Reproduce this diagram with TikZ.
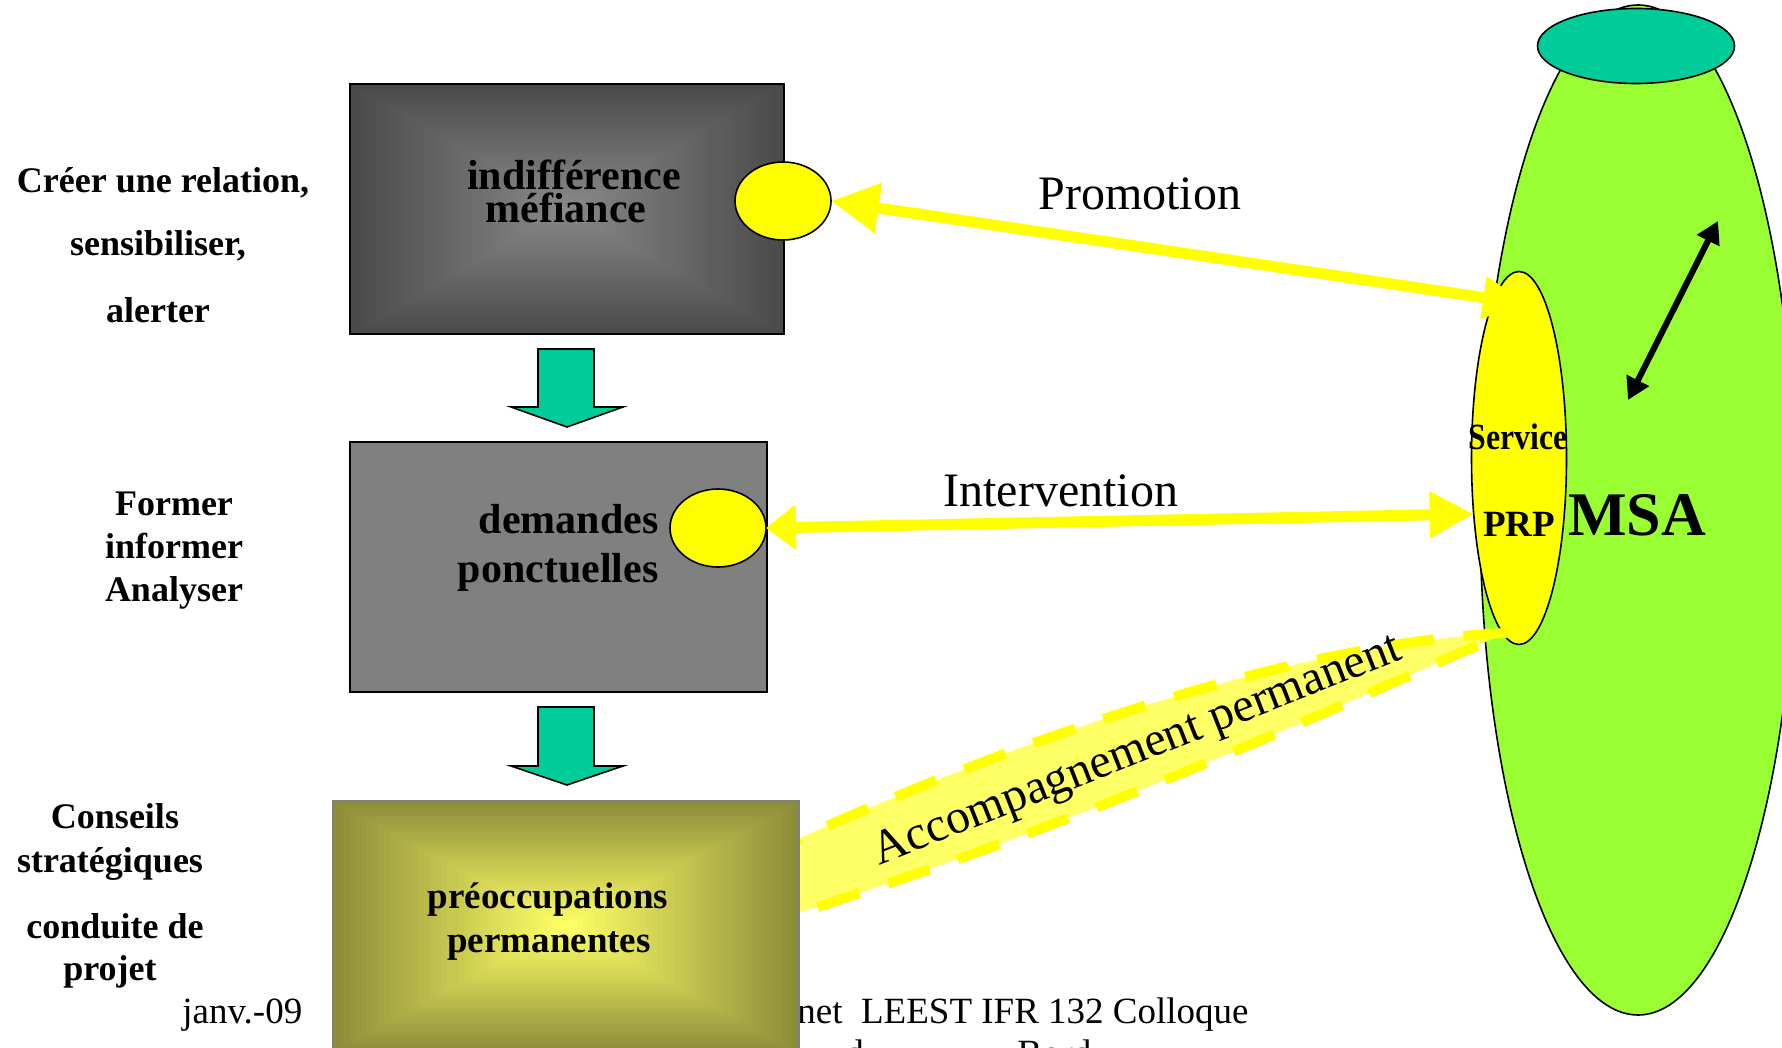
\documentclass[tikz,border=0pt]{standalone}
\usepackage{fontspec}
\setmainfont{Liberation Serif}
\usetikzlibrary{shapes.geometric,arrows.meta,calc}
\definecolor{msagreen}{HTML}{99FF33}
\definecolor{tealc}{HTML}{00CC99}
\definecolor{yel}{HTML}{FFFF00}
\definecolor{lyel}{HTML}{FFFF66}
\definecolor{boxgray}{HTML}{808080}
\definecolor{darkout}{HTML}{4A4A4A}
\definecolor{darkin}{HTML}{888888}
\definecolor{oliveout}{HTML}{8C8C3A}
\definecolor{olivein}{HTML}{FFFF66}
\newcommand\pyrshade[6]{%
  \foreach \i in {0,...,40}{%
    \pgfmathsetmacro\ff{\i/82}%
    \pgfmathsetmacro\pp{100*\i/40}%
    \fill[#6!\pp!#5] ({#1+\ff*(#3-#1)},{#2+\ff*(#4-#2)}) rectangle ({#3-\ff*(#3-#1)},{#4-\ff*(#4-#2)});
  }%
}
\tikzset{
  lbl/.style={font=\bfseries\fontsize{18}{18}\selectfont, anchor=base, inner sep=0},
  boxtxt/.style={font=\bfseries\fontsize{21}{21}\selectfont, anchor=base, inner sep=0},
  boxtxtb/.style={font=\bfseries\fontsize{18.5}{18.5}\selectfont, anchor=base, inner sep=0},
  foot/.style={font=\fontsize{18.5}{18.5}\selectfont, anchor=base west, inner sep=0},
  big/.style={font=\fontsize{24}{24}\selectfont, anchor=base west, inner sep=0},
  oval/.style={ellipse, draw, line width=0.8pt, inner sep=0, outer sep=0},
  rbox/.style={draw, inner sep=0, outer sep=0},
  blockarrow/.style={fill=tealc, draw=black, line width=0.8pt, line join=miter},
  yline/.style={draw=yel, line width=5.5pt},
}
\begin{document}
\begin{tikzpicture}[x=0.5pt,y=-0.5pt]
\useasboundingbox (0,0) rectangle (1782,1048);

% footer (partly hidden behind box 3)
\node[foot] (f1) at (182,1023) {janv.-09};
\node[foot] (f2) at (797,1023) {net\ \ LEEST IFR 132 Colloque};
\node[foot] (f3) at (845,1065) {d};
\node[foot] (f4) at (1017,1065) {Bord};

% MSA shapes
\node[oval, fill=msagreen, minimum width=158pt, minimum height=505pt] (msa) at (1638,510) {};
\node[oval, fill=tealc, minimum width=98.5pt, minimum height=37.5pt] (topc) at (1636,46) {};
\node[oval, fill=yel, minimum width=47.5pt, minimum height=186.5pt] (prp) at (1519,458) {};
\coordinate (ma) at (1628,400);
\coordinate (mb) at (1718,221);
\draw[line width=3pt, {Triangle[length=11pt,width=12pt]}-{Triangle[length=11pt,width=12pt]}] (ma) -- (mb);

% Accompagnement band
\path[fill=lyel, draw=yel, line width=5pt, dash pattern=on 22pt off 15pt]
  (760,856) .. controls (1100,700) and (1350,640) .. (1506,633)
  .. controls (1350,700) and (1100,820) .. (760,925) -- cycle;
\node[font=\fontsize{24}{24}\selectfont, anchor=base, inner sep=0, rotate=21.5] (acc) at (1142,762) {Accompagnement permanent};

% box 1
\pyrshade{350}{84}{784}{334}{darkout}{darkin}
\node[rbox, line width=1pt, minimum width=217pt, minimum height=125pt] (b1) at (567,209) {};
% box 2
\node[rbox, fill=boxgray, line width=1pt, minimum width=208.5pt, minimum height=125pt] (b2) at (558.5,567) {};
% box 3 (runs past the bottom edge)
\pyrshade{333}{801}{799}{1052}{oliveout}{olivein}
\node[rbox, draw=gray, line width=1pt, minimum width=233pt, minimum height=125.5pt] (b3) at (566,926.5) {};

% block arrows
\draw[blockarrow] (538,349) -- (594,349) -- (594,407) -- (623,407) -- (567,427) -- (511,407) -- (538,407) -- cycle;
\draw[blockarrow] (538,707) -- (594,707) -- (594,766) -- (623,766) -- (567,785) -- (511,766) -- (538,766) -- cycle;

% yellow circles
\node[oval, fill=yel, minimum width=48pt, minimum height=39pt] (c1) at (783,201) {};
\node[oval, fill=yel, minimum width=48pt, minimum height=39pt] (c2) at (718,528) {};

% yellow arrows
\coordinate (pp) at (1527,304);
\draw[yline, {Triangle[length=24pt,width=24pt]}-{Triangle[length=22pt,width=20pt]}] (c1.east) -- (pp);
\draw[yline, {Triangle[length=15pt,width=22pt]}-{Triangle[length=22pt,width=22pt]}] (c2.east) -- (prp.231.6);

% labels on arrows
\node[big] (promo) at (1038,210) {Promotion};
\node[big] (interv) at (943,506) {Intervention};

% MSA texts
\node[font=\bfseries\fontsize{18.5}{18.5}\selectfont, anchor=base, inner sep=0] (serv) at (1518,449) {\scalebox{0.86}[1]{Service}};
\node[font=\bfseries\fontsize{18.5}{18.5}\selectfont, anchor=base, inner sep=0] (prpt) at (1519,536) {PRP};
\node[font=\bfseries\fontsize{31}{31}\selectfont, anchor=base west, inner sep=0] (msat) at (1568,535) {MSA};

% box texts
\node[boxtxt] (t1a) at (574,190) {indifférence};
\node[boxtxt] (t1b) at (566,223) {méfiance};
\node[boxtxt, anchor=base east] (t2a) at (659,533) {demandes};
\node[boxtxt, anchor=base east] (t2b) at (659,582) {ponctuelles};
\node[boxtxtb] (t3a) at (548,908) {préoccupations};
\node[boxtxtb] (t3b) at (549,952) {permanentes};

% left labels
\node[lbl] (l1) at (163,193) {Créer une relation,};
\node[lbl] (l2) at (158,256) {sensibiliser,};
\node[lbl] (l3) at (158,322) {alerter};
\node[lbl] (l4) at (174,515) {Former};
\node[lbl] (l5) at (174,558) {informer};
\node[lbl] (l6) at (174,601) {Analyser};
\node[lbl] (l7) at (115,828) {Conseils};
\node[lbl] (l8) at (110,872) {stratégiques};
\node[lbl] (l9) at (115,938) {conduite de};
\node[lbl] (l10) at (110,980) {projet};
\end{tikzpicture}
\end{document}
